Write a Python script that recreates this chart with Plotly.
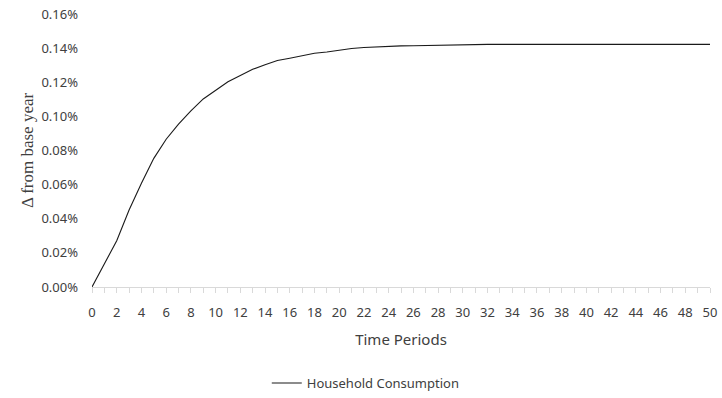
import plotly.graph_objects as go

# Time periods and household consumption response (% change from base year)
periods = list(range(0, 51))
household_consumption_pct = [
    0.0000, 0.0139, 0.0271, 0.0451, 0.0608, 0.0754, 0.0866, 0.0955, 0.1032, 0.1102,
    0.1155, 0.1203, 0.1239, 0.1276, 0.1303, 0.1327, 0.1341, 0.1356, 0.1370, 0.1377,
    0.1389, 0.1398, 0.1404, 0.1408, 0.1411, 0.1413, 0.1414, 0.1416, 0.1417, 0.1418,
    0.1419, 0.1420, 0.1422, 0.1422, 0.1422, 0.1422, 0.1422, 0.1422, 0.1422, 0.1422,
    0.1422, 0.1422, 0.1422, 0.1422, 0.1422, 0.1422, 0.1422, 0.1422, 0.1422, 0.1422,
    0.1422,
]
y_ticks_pct = [0.00, 0.02, 0.04, 0.06, 0.08, 0.10, 0.12, 0.14, 0.16]
x_ticks = list(range(0, 51, 2))

fig = go.Figure()
fig.add_trace(go.Scatter(
    x=periods,
    y=[v / 100 for v in household_consumption_pct],
    mode="lines",
    name="Household Consumption",
    line=dict(color="#1a1a1a", width=1.1),
))

fig.update_layout(
    width=722,
    height=398,
    margin=dict(l=92, r=12, t=14, b=111, autoexpand=False),
    paper_bgcolor="white",
    plot_bgcolor="white",
    font=dict(family="Noto Sans, Open Sans, sans-serif", size=12, color="#404040"),
    showlegend=True,
    legend=dict(
        orientation="h",
        x=0.443, xanchor="center",
        y=-0.352, yanchor="middle",
        font=dict(size=13, color="#404040"),
    ),
    xaxis=dict(
        range=[0, 50],
        tickvals=x_ticks,
        ticktext=[str(t) for t in x_ticks],
        showgrid=False,
        zeroline=False,
        showline=True,
        linecolor="#d9d9d9",
        linewidth=1,
        ticks="outside",
        ticklen=5,
        tickcolor="#d9d9d9",
        minor=dict(dtick=1, ticks="outside", ticklen=5, tickcolor="#d9d9d9", showgrid=False),
        tickfont=dict(size=13),
        ticklabelstandoff=8,
        title=dict(text="Time Periods", font=dict(size=15, color="#404040"), standoff=14),
        fixedrange=True,
    ),
    yaxis=dict(
        range=[0, 0.0016],
        tickvals=[v / 100 for v in y_ticks_pct],
        tickformat=".2%",
        showgrid=False,
        zeroline=False,
        showline=False,
        ticks="",
        ticklabelstandoff=13,
        tickfont=dict(size=13),
        title=dict(
            text="Δ from base year",
            font=dict(family="Liberation Serif, Times New Roman, serif", size=17, color="#404040"),
            standoff=3,
        ),
        fixedrange=True,
    ),
)

fig.write_html("out.html")
